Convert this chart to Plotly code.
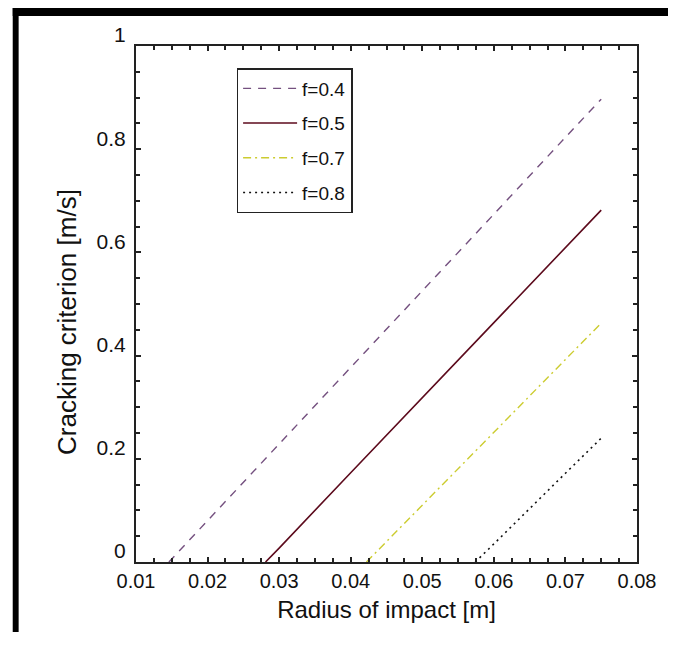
import plotly.graph_objects as go

# ---- data ----
radius_f04 = [0.0146, 0.02, 0.03, 0.04, 0.05, 0.06, 0.07, 0.075]
crit_f04 = [0.0, 0.080, 0.229, 0.377, 0.526, 0.674, 0.823, 0.897]

radius_f05 = [0.0281, 0.03, 0.04, 0.05, 0.06, 0.07, 0.075]
crit_f05 = [0.0, 0.027, 0.173, 0.318, 0.464, 0.610, 0.682]

radius_f07 = [0.0422, 0.05, 0.06, 0.07, 0.075]
crit_f07 = [0.0, 0.110, 0.251, 0.392, 0.463]

radius_f08 = [0.0574, 0.06, 0.07, 0.075]
crit_f08 = [0.0, 0.035, 0.172, 0.240]

series_names = ["f=0.4", "f=0.5", "f=0.7", "f=0.8"]
x_ticks = [0.01, 0.02, 0.03, 0.04, 0.05, 0.06, 0.07, 0.08]
x_tick_text = ["0.01", "0.02", "0.03", "0.04", "0.05", "0.06", "0.07", "0.08"]
y_ticks = [0, 0.2, 0.4, 0.6, 0.8, 1]
y_tick_text = ["0", "0.2", "0.4", "0.6", "0.8", "1"]
x_title = "Radius of impact [m]"
y_title = "Cracking criterion [m/s]"

FONT = "Liberation Sans, Arial, sans-serif"

fig = go.Figure()
styles = [
    dict(color="#74507f", dash="8px,7px", width=1.4),
    dict(color="#5c0a1c", dash="solid", width=1.6),
    dict(color="#cccc30", dash="8px,4px,2px,4px", width=1.4),
    dict(color="#111111", dash="2px,4px", width=1.6),
]
for i, (xs, ys) in enumerate([(radius_f04, crit_f04), (radius_f05, crit_f05),
                              (radius_f07, crit_f07), (radius_f08, crit_f08)]):
    fig.add_trace(go.Scatter(x=xs, y=ys, mode="lines", name=series_names[i],
                             line=styles[i], legendgroup=f"g{i}"))

# page has an 8px body margin; keep the figure inside the window (no scrollbars)
OFF = 8
W, H = 660, 624
L, T = 136 - OFF, 46 - OFF
R = W - (644 - OFF)
B = H - (562 - OFF)
pw, ph = W - L - R, H - T - B

def px2x(p):  # page pixel -> paper x
    return (p - OFF - L) / pw

def py2y(p):  # page pixel -> paper y
    return (H - B - (p - OFF)) / ph

shapes = [
    dict(type="rect", xref="paper", yref="paper", x0=px2x(11), x1=px2x(700),
         y0=py2y(16), y1=py2y(0), fillcolor="black", line_width=0, layer="above"),
    dict(type="rect", xref="paper", yref="paper", x0=px2x(11), x1=px2x(17),
         y0=py2y(700), y1=py2y(0), fillcolor="black", line_width=0, layer="above"),
]

fig.update_layout(
    width=W, height=H,
    margin=dict(l=L, r=R, t=T, b=B),
    paper_bgcolor="white", plot_bgcolor="white",
    shapes=shapes,
    showlegend=True,
    legend=dict(
        x=px2x(238), y=py2y(68), xanchor="left", yanchor="top",
        bgcolor="white", bordercolor="#222222", borderwidth=1.5,
        font=dict(family=FONT, size=19, color="#111111"),
        itemwidth=54, tracegroupgap=7,
    ),
    annotations=[
        dict(text=y_title, xref="paper", yref="paper", x=px2x(66), y=py2y(322),
             textangle=-90, showarrow=False, xanchor="center", yanchor="middle",
             font=dict(family=FONT, size=26, color="#111111")),
    ],
    xaxis=dict(
        range=[0.01, 0.08], tickmode="array", tickvals=x_ticks, ticktext=x_tick_text,
        ticks="inside", ticklen=5, tickwidth=1.5, tickcolor="#222222",
        minor=dict(dtick=0.0025, ticks="inside", ticklen=4, tickwidth=1.5, tickcolor="#222222"),
        showline=True, linecolor="#222222", linewidth=2, mirror="ticks",
        showgrid=False, zeroline=False,
        tickfont=dict(family=FONT, size=20, color="#111111"),
        title=dict(text=x_title, font=dict(family=FONT, size=24, color="#111111"),
                   standoff=10),
    ),
    yaxis=dict(
        range=[0, 1], tickmode="array", tickvals=y_ticks, ticktext=y_tick_text,
        ticks="inside", ticklen=5, tickwidth=1.5, tickcolor="#222222",
        minor=dict(dtick=0.05, ticks="inside", ticklen=4, tickwidth=1.5, tickcolor="#222222"),
        showline=True, linecolor="#222222", linewidth=2, mirror="ticks",
        showgrid=False, zeroline=False,
        ticklabelshift=-11, ticklabelstandoff=4,
        tickfont=dict(family=FONT, size=21, color="#111111"),
    ),
)

fig.write_html("out.html")
